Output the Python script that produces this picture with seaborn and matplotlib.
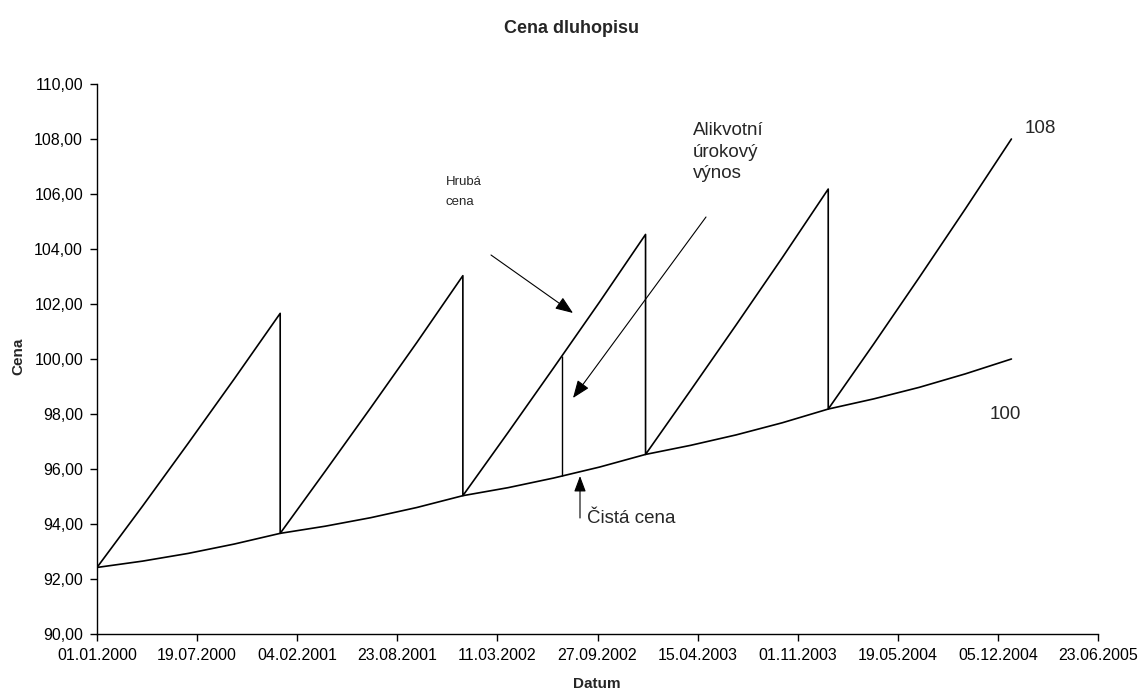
import numpy as np
import pandas as pd
import matplotlib
matplotlib.use("Agg")
import matplotlib.pyplot as plt
import matplotlib.dates as mdates
import seaborn as sns

# hruba cena (dirty price) - sawtooth, coupon dates appear twice (before / after coupon)
dirty_dates = [
    "2000-01-01", "2000-04-01", "2000-07-01", "2000-10-01", "2001-01-01",
    "2001-01-01", "2001-04-01", "2001-07-01", "2001-10-01", "2002-01-01",
    "2002-01-01", "2002-04-01", "2002-07-01", "2002-10-01", "2003-01-01",
    "2003-01-01", "2003-04-01", "2003-07-01", "2003-10-01", "2004-01-01",
    "2004-01-01", "2004-04-01", "2004-07-01", "2004-10-01", "2005-01-01",
]
dirty_price = [
    92.42, 94.65, 96.93, 99.27, 101.66,
    93.66, 95.92, 98.23, 100.60, 103.03,
    95.03, 97.32, 99.67, 102.07, 104.53,
    96.53, 98.86, 101.24, 103.68, 106.18,
    98.18, 100.55, 102.97, 105.46, 108.00,
]

# cista cena (clean price)
clean_dates = [
    "2000-01-01", "2000-04-01", "2000-07-01", "2000-10-01",
    "2001-01-01", "2001-04-01", "2001-07-01", "2001-10-01",
    "2002-01-01", "2002-04-01", "2002-07-01", "2002-10-01",
    "2003-01-01", "2003-04-01", "2003-07-01", "2003-10-01",
    "2004-01-01", "2004-04-01", "2004-07-01", "2004-10-01",
    "2005-01-01",
]
clean_price = [
    92.42, 92.65, 92.93, 93.27,
    93.66, 93.92, 94.23, 94.60,
    95.03, 95.32, 95.67, 96.07,
    96.53, 96.86, 97.24, 97.68,
    98.18, 98.55, 98.97, 99.46,
    100.00,
]

# alikvotni urokovy vynos (accrued interest) shown at one date
accrued_date = "2002-07-18"
accrued_low = 95.73
accrued_high = 100.10

y_ticks = [90, 92, 94, 96, 98, 100, 102, 104, 106, 108, 110]
x_start = "2000-01-01"
x_step_days = 200
n_xticks = 11

sns.set_style("ticks")
plt.rcParams["font.family"] = ["Liberation Sans", "DejaVu Sans"]

fig = plt.figure(figsize=(11.41, 6.93), dpi=100)
ax = fig.add_axes([97 / 1141, 1 - 634 / 693, (1098 - 97) / 1141, (634 - 84) / 693])

dirty = pd.DataFrame({"Datum": pd.to_datetime(dirty_dates), "Cena": dirty_price})
clean = pd.DataFrame({"Datum": pd.to_datetime(clean_dates), "Cena": clean_price})

sns.lineplot(data=dirty, x="Datum", y="Cena", estimator=None, sort=False,
             color="black", lw=1.2, ax=ax)
sns.lineplot(data=clean, x="Datum", y="Cena", estimator=None, sort=False,
             color="black", lw=1.2, ax=ax)
ax.vlines(pd.to_datetime(accrued_date), accrued_low, accrued_high,
          color="black", lw=1.0)

# axes
xticks = pd.date_range(x_start, periods=n_xticks, freq=f"{x_step_days}D")
ax.set_xlim(xticks[0], xticks[-1])
ax.set_xticks(xticks)
ax.xaxis.set_major_formatter(mdates.DateFormatter("%d.%m.%Y"))
ax.set_ylim(y_ticks[0], y_ticks[-1])
ax.set_yticks(y_ticks)
ax.set_yticklabels([f"{v:.2f}".replace(".", ",") for v in y_ticks])
ax.tick_params(axis="both", labelsize=11.5, length=5, width=1, color="black",
               pad=5, labelcolor="black")
for s in ["left", "bottom"]:
    ax.spines[s].set_color("black")
    ax.spines[s].set_linewidth(1)
sns.despine(ax=ax)
ax.set_xlabel("")
ax.set_ylabel("")

# titles
fig.text(572 / 1141, 1 - 33 / 693, "Cena dluhopisu", ha="center", va="baseline",
         fontsize=13, fontweight="bold")
fig.text(597 / 1141, 1 - 688 / 693, "Datum", ha="center", va="baseline",
         fontsize=11, fontweight="bold")
fig.text(18 / 1141, 1 - 356 / 693, "Cena", ha="center", va="center",
         rotation=90, fontsize=11, fontweight="bold")

# annotations
def label(x, y, s, size):
    fig.text(x / 1141, 1 - y / 693, s, ha="left", va="baseline", fontsize=size)

label(446, 185, "Hrubá", 9.5)
label(446, 205, "cena", 9.5)
label(693, 135, "Alikvotní", 13.5)
label(693, 157, "úrokový", 13.5)
label(693, 178, "výnos", 13.5)
label(1025, 133, "108", 13.5)
label(990, 419, "100", 13.5)
label(587, 523, "Čistá cena", 13.5)

def arrow(tail, tip, hl=0.9, hw=0.35):
    ax.annotate("", xy=(tip[0], 693 - tip[1]), xycoords="figure pixels",
                xytext=(tail[0], 693 - tail[1]), textcoords="figure pixels",
                arrowprops=dict(arrowstyle=f"-|>,head_length={hl},head_width={hw}",
                                color="black", lw=0.8, mutation_scale=12,
                                shrinkA=0, shrinkB=0))

arrow((491, 255), (573, 313))
arrow((706, 217), (573, 398))
arrow((580, 518), (580, 476), hl=0.8, hw=0.3)

fig.savefig("out.png", dpi=100)
